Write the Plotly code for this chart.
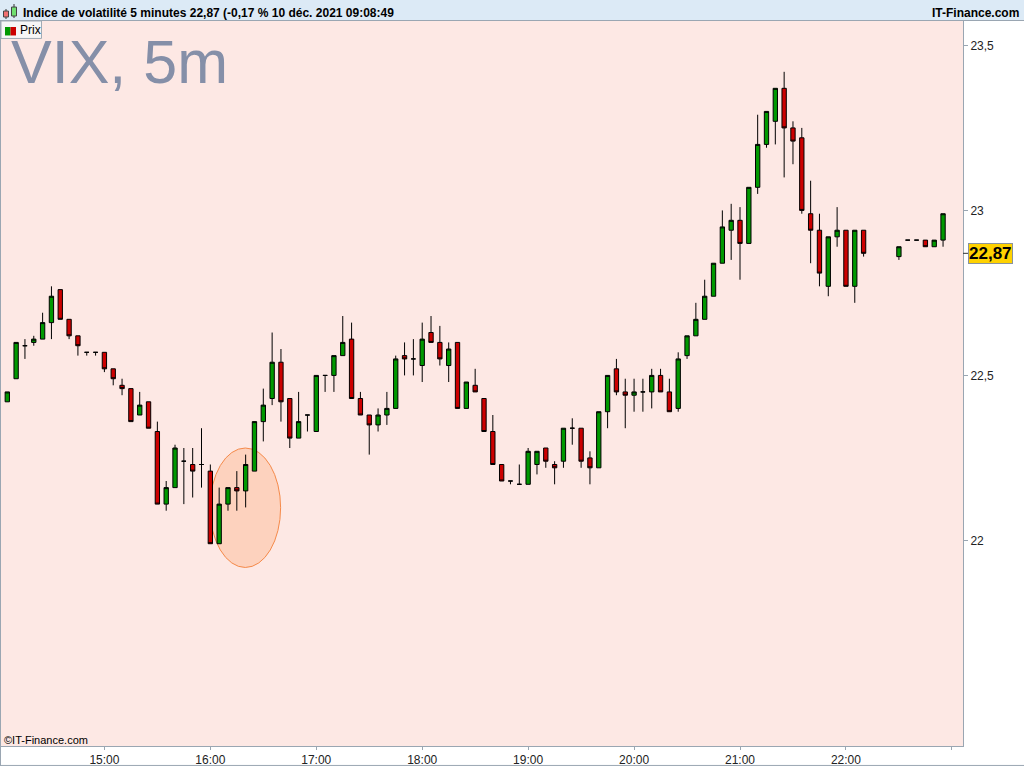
import plotly.graph_objects as go

DAY = "2021-12-09"

# 5 minute bars, VIX, session of 9 Dec 2021 (22:15-22:25 missing)
times = [
    "14:05", "14:10", "14:15", "14:20", "14:25", "14:30", "14:35", "14:40", "14:45", "14:50", "14:55",
    "15:00", "15:05", "15:10", "15:15", "15:20", "15:25", "15:30", "15:35", "15:40", "15:45", "15:50", "15:55",
    "16:00", "16:05", "16:10", "16:15", "16:20", "16:25", "16:30", "16:35", "16:40", "16:45", "16:50", "16:55",
    "17:00", "17:05", "17:10", "17:15", "17:20", "17:25", "17:30", "17:35", "17:40", "17:45", "17:50", "17:55",
    "18:00", "18:05", "18:10", "18:15", "18:20", "18:25", "18:30", "18:35", "18:40", "18:45", "18:50", "18:55",
    "19:00", "19:05", "19:10", "19:15", "19:20", "19:25", "19:30", "19:35", "19:40", "19:45", "19:50", "19:55",
    "20:00", "20:05", "20:10", "20:15", "20:20", "20:25", "20:30", "20:35", "20:40", "20:45", "20:50", "20:55",
    "21:00", "21:05", "21:10", "21:15", "21:20", "21:25", "21:30", "21:35", "21:40", "21:45", "21:50", "21:55",
    "22:00", "22:05", "22:10",
    "22:30", "22:35", "22:40", "22:45", "22:50", "22:55",
]
opens = [
    22.42, 22.49, 22.59, 22.60, 22.61, 22.66, 22.76, 22.67, 22.62, 22.57, 22.57,
    22.57, 22.52, 22.47, 22.46, 22.38, 22.42, 22.33, 22.11, 22.16, 22.24, 22.23, 22.23,
    22.21, 21.99, 22.11, 22.16, 22.15, 22.21, 22.36, 22.43, 22.54, 22.43, 22.31, 22.38,
    22.33, 22.50, 22.50, 22.56, 22.61, 22.43, 22.38, 22.35, 22.38, 22.40, 22.56, 22.55,
    22.53, 22.63, 22.60, 22.53, 22.60, 22.40, 22.47, 22.43, 22.33, 22.23, 22.18, 22.17,
    22.17, 22.23, 22.28, 22.23, 22.24, 22.34, 22.34, 22.25, 22.22, 22.39, 22.52, 22.45,
    22.44, 22.45, 22.45, 22.50, 22.45, 22.40, 22.56, 22.62, 22.67, 22.74, 22.84, 22.94,
    22.97, 22.90, 23.07, 23.20, 23.27, 23.37, 23.25, 23.22, 22.99, 22.94, 22.77, 22.92,
    22.94, 22.77, 22.94,
    22.86, 22.91, 22.91, 22.91, 22.89, 22.91,
]
highs = [
    22.45, 22.60, 22.61, 22.62, 22.69, 22.77, 22.76, 22.67, 22.62, 22.57, 22.57,
    22.57, 22.52, 22.49, 22.46, 22.45, 22.42, 22.36, 22.18, 22.29, 22.28, 22.28, 22.34,
    22.23, 22.16, 22.16, 22.21, 22.26, 22.36, 22.46, 22.63, 22.58, 22.43, 22.45, 22.38,
    22.50, 22.50, 22.56, 22.68, 22.66, 22.45, 22.38, 22.40, 22.45, 22.56, 22.60, 22.61,
    22.66, 22.68, 22.65, 22.60, 22.60, 22.48, 22.52, 22.43, 22.38, 22.23, 22.18, 22.23,
    22.28, 22.27, 22.28, 22.24, 22.34, 22.37, 22.34, 22.27, 22.39, 22.50, 22.55, 22.49,
    22.49, 22.49, 22.52, 22.52, 22.49, 22.57, 22.62, 22.72, 22.79, 22.84, 23.00, 23.02,
    23.01, 23.07, 23.29, 23.30, 23.37, 23.42, 23.27, 23.25, 23.09, 22.99, 22.92, 23.01,
    22.94, 22.94, 22.94,
    22.89, 22.91, 22.91, 22.91, 22.91, 22.99,
]
lows = [
    22.42, 22.49, 22.55, 22.59, 22.61, 22.61, 22.67, 22.61, 22.56, 22.56, 22.56,
    22.51, 22.47, 22.44, 22.36, 22.38, 22.34, 22.11, 22.09, 22.16, 22.11, 22.13, 22.16,
    21.99, 21.99, 22.09, 22.09, 22.10, 22.21, 22.30, 22.41, 22.36, 22.28, 22.31, 22.33,
    22.33, 22.45, 22.45, 22.56, 22.43, 22.38, 22.26, 22.33, 22.35, 22.40, 22.50, 22.50,
    22.48, 22.60, 22.53, 22.48, 22.40, 22.40, 22.45, 22.33, 22.23, 22.18, 22.17, 22.17,
    22.17, 22.20, 22.22, 22.17, 22.22, 22.29, 22.22, 22.17, 22.22, 22.34, 22.44, 22.34,
    22.39, 22.39, 22.40, 22.45, 22.39, 22.39, 22.55, 22.62, 22.67, 22.74, 22.84, 22.85,
    22.79, 22.90, 23.05, 23.19, 23.20, 23.10, 23.14, 22.99, 22.84, 22.77, 22.74, 22.89,
    22.77, 22.72, 22.86,
    22.85, 22.91, 22.91, 22.89, 22.89, 22.89,
]
closes = [
    22.45, 22.60, 22.59, 22.61, 22.66, 22.74, 22.67, 22.62, 22.59, 22.57, 22.57,
    22.52, 22.49, 22.46, 22.36, 22.41, 22.34, 22.11, 22.16, 22.28, 22.24, 22.21, 22.23,
    21.99, 22.11, 22.16, 22.15, 22.23, 22.36, 22.41, 22.54, 22.42, 22.31, 22.36, 22.38,
    22.50, 22.50, 22.56, 22.60, 22.43, 22.38, 22.35, 22.38, 22.40, 22.55, 22.55, 22.55,
    22.61, 22.60, 22.55, 22.58, 22.40, 22.48, 22.45, 22.33, 22.23, 22.18, 22.18, 22.17,
    22.27, 22.27, 22.24, 22.22, 22.34, 22.34, 22.24, 22.22, 22.39, 22.50, 22.45, 22.44,
    22.45, 22.45, 22.50, 22.45, 22.39, 22.55, 22.62, 22.67, 22.74, 22.84, 22.95, 22.97,
    22.90, 23.07, 23.20, 23.30, 23.37, 23.25, 23.21, 23.00, 22.94, 22.81, 22.92, 22.94,
    22.77, 22.94, 22.87,
    22.89, 22.91, 22.91, 22.89, 22.91, 22.99,
]

last_price = 22.87
last_label = "22,87"

x_ticks = ["15:00", "16:00", "17:00", "18:00", "19:00", "20:00", "21:00", "22:00", "23:00"]
x_tick_text = ["15:00", "16:00", "17:00", "18:00", "19:00", "20:00", "21:00", "22:00", ""]
y_ticks = [22, 22.5, 23, 23.5]
y_tick_text = ["22", "22,5", "23", "23,5"]

x_range = ["14:01:26", "23:06:18"]
y_range = [21.377, 23.574]

# highlighted zone (ellipse) around the 16:00 low
zone_x = ["15:59:48", "16:39:48"]
zone_y = [21.918, 22.280]

header = "Indice de volatilité 5 minutes 22,87 (-0,17 % 10 déc. 2021 09:08:49"

FONT = "Liberation Sans"
W, H = 1024, 768
L, R, T, B = 1, 963, 21, 748   # plot area in page pixels


def px(x):
    return (x - L) / (R - L)


def py(y):
    return (B - y) / (B - T)


def ts(t):
    return f"{DAY} {t}"


fig = go.Figure()
fig.add_trace(go.Candlestick(
    x=[ts(t) for t in times],
    open=opens, high=highs, low=lows, close=closes,
    name="Prix",
    increasing=dict(fillcolor="#009900", line=dict(color="black", width=1)),
    decreasing=dict(fillcolor="#CC0000", line=dict(color="black", width=1)),
    whiskerwidth=0,
    showlegend=False,
))

shapes = []
# header bar
shapes.append(dict(type="rect", xref="paper", yref="paper",
                   x0=px(0), x1=px(W), y0=py(T), y1=py(0),
                   fillcolor="#DCEAF6", line=dict(width=0), layer="above"))
shapes.append(dict(type="line", xref="paper", yref="paper",
                   x0=px(0), x1=px(W), y0=py(T - 0.5), y1=py(T - 0.5),
                   line=dict(color="#9AA6B2", width=1)))
# frame lines
shapes.append(dict(type="line", xref="paper", yref="paper",
                   x0=px(0.5), x1=px(0.5), y0=py(H), y1=py(T),
                   line=dict(color="#9AA6B2", width=1)))
shapes.append(dict(type="line", xref="paper", yref="paper",
                   x0=px(0), x1=px(W), y0=py(H - 0.5), y1=py(H - 0.5),
                   line=dict(color="#9AA6B2", width=1)))
# header icon
shapes.append(dict(type="line", xref="paper", yref="paper",
                   x0=px(6), x1=px(6), y0=py(19), y1=py(9),
                   line=dict(color="#333333", width=1)))
shapes.append(dict(type="rect", xref="paper", yref="paper",
                   x0=px(3.5), x1=px(8.5), y0=py(17), y1=py(11),
                   fillcolor="#F07070", line=dict(color="#444444", width=1)))
shapes.append(dict(type="line", xref="paper", yref="paper",
                   x0=px(14), x1=px(14), y0=py(18), y1=py(4),
                   line=dict(color="#333333", width=1)))
shapes.append(dict(type="rect", xref="paper", yref="paper",
                   x0=px(11.5), x1=px(16.5), y0=py(16), y1=py(7),
                   fillcolor="#70E070", line=dict(color="#444444", width=1)))
# legend box
shapes.append(dict(type="rect", xref="paper", yref="paper",
                   x0=px(1), x1=px(41.5), y0=py(38.5), y1=py(21),
                   fillcolor="#F6F6F6", line=dict(color="#A0AAB4", width=1)))
shapes.append(dict(type="rect", xref="paper", yref="paper",
                   x0=px(5), x1=px(10.5), y0=py(35.5), y1=py(27),
                   fillcolor="#009900", line=dict(width=0)))
shapes.append(dict(type="rect", xref="paper", yref="paper",
                   x0=px(10.5), x1=px(16), y0=py(35.5), y1=py(27),
                   fillcolor="#CC0000", line=dict(width=0)))
# highlight ellipse (under the candles)
shapes.append(dict(type="circle", xref="x", yref="y",
                   x0=ts(zone_x[0]), x1=ts(zone_x[1]), y0=zone_y[0], y1=zone_y[1],
                   fillcolor="rgba(252,170,120,0.35)", line=dict(color="#F58A4A", width=1),
                   layer="below"))
# last price tick
shapes.append(dict(type="line", xref="paper", yref="y",
                   x0=px(963), x1=px(968), y0=last_price, y1=last_price,
                   line=dict(color="#333333", width=1)))

annotations = [
    dict(text=header, xref="paper", yref="paper", x=px(21), y=py(13),
         xanchor="left", yanchor="middle", showarrow=False,
         font=dict(family=FONT, size=12, color="black", weight="bold")),
    dict(text="IT-Finance.com", xref="paper", yref="paper", x=px(1021), y=py(13),
         xanchor="right", yanchor="middle", showarrow=False,
         font=dict(family=FONT, size=12, color="black", weight="bold")),
    dict(text="Prix", xref="paper", yref="paper", x=px(18), y=py(30.5),
         xanchor="left", yanchor="middle", showarrow=False,
         font=dict(family=FONT, size=12, color="black")),
    dict(text="VIX, 5m", xref="paper", yref="paper", x=px(9), y=py(62),
         xanchor="left", yanchor="middle", showarrow=False,
         font=dict(family=FONT, size=61, color="#858FA8")),
    dict(text="©IT-Finance.com", xref="paper", yref="paper", x=px(2), y=py(742),
         xanchor="left", yanchor="middle", showarrow=False,
         font=dict(family=FONT, size=11, color="black")),
    dict(text=last_label, xref="paper", yref="y", x=px(968), y=last_price,
         xanchor="left", yanchor="middle", showarrow=False,
         bgcolor="#FFD200", bordercolor="#8A939C", borderwidth=1, borderpad=0,
         font=dict(family=FONT, size=17, color="black", weight="bold")),
]

fig.update_layout(
    width=W, height=H,
    margin=dict(l=L, r=W - R, t=T, b=H - B, pad=0),
    paper_bgcolor="white",
    plot_bgcolor="#FDE8E4",
    font=dict(family=FONT, size=12, color="#222222"),
    shapes=shapes,
    annotations=annotations,
    showlegend=False,
    xaxis=dict(
        type="date",
        range=[ts(v) for v in x_range],
        tickvals=[ts(v) for v in x_ticks],
        ticktext=x_tick_text,
        ticks="outside", ticklen=3, tickcolor="#9AA6B2",
        showgrid=False, zeroline=False,
        showline=True, linecolor="#9AA6B2", linewidth=1,
        rangeslider=dict(visible=False),
        fixedrange=True,
    ),
    yaxis=dict(
        side="right",
        range=y_range,
        tickvals=y_ticks,
        ticktext=y_tick_text,
        ticks="outside", ticklen=4, tickcolor="#9AA6B2",
        showgrid=False, zeroline=False,
        showline=True, linecolor="#9AA6B2", linewidth=1,
        fixedrange=True,
    ),
)

# the page body has a default 8px margin; drop it so the chart sits at 0,0
fig.write_html("out.html", config=dict(displayModeBar=False),
               post_script="document.body.style.margin='0';")
